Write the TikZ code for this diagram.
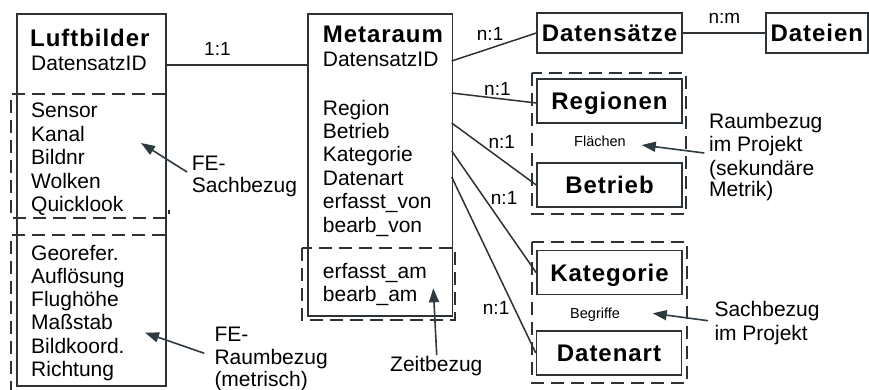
\documentclass[tikz,border=0pt]{standalone}
\usepackage{fontspec}
\setmainfont{Liberation Sans}
\newfontfamily\titlefont{Liberation Sans}[LetterSpace=4]
\usetikzlibrary{arrows.meta}
\definecolor{ln}{RGB}{45,50,54}
\definecolor{ar}{RGB}{45,58,64}
\newcommand\fr{\fontsize{21}{24}\selectfont}
\newcommand\fb{\titlefont\bfseries\fontsize{24}{27}\selectfont}
\newcommand\fs{\fontsize{19}{22}\selectfont}
\newcommand\ft{\fontsize{14.5}{16}\selectfont}
\begin{document}
\begin{tikzpicture}[x=1pt,y=-1pt,
 box/.style={draw=ln,line width=1.5pt,rectangle,inner sep=0pt},
 ent/.style={box,font=\fb,text height=17pt,text depth=0pt,minimum width=145pt,minimum height=44pt},
 grp/.style={draw=ln,line width=2.4pt,dash pattern=on 13pt off 7pt},
 rel/.style={draw=ln,line width=1.5pt},
 ptr/.style={draw=ar,line width=1.6pt,-{Triangle[length=14pt,width=10pt]}},
 txt/.style={inner sep=0pt,anchor=base west,font=\fr},
 ttl/.style={inner sep=0pt,anchor=base west,font=\fb},
 lbl/.style={inner sep=0pt,anchor=base west,font=\fs},
 sm/.style={inner sep=0pt,anchor=base west,font=\ft}]
\useasboundingbox (0,0) rectangle (869,389);

% dashed groupings
\draw[grp] (165,94) -- (11,94) -- (11,218) -- (169,218) -- (169,210);
\draw[grp] (165,235) -- (11,235) -- (11,392);
\draw[grp] (302,248) rectangle (455,320);
\draw[grp] (532,73) rectangle (686,214);
\draw[grp] (532,242) rectangle (687,383);

% Luftbilder
\node[box,anchor=north west,minimum width=149pt,minimum height=372pt] (luft) at (16,13) {};
\node[ttl] (lt) at (30,46) {Luftbilder};
\node[txt] (lid) at (31,70.7) {DatensatzID};
\foreach \t [count=\i] in {Sensor,Kanal,Bildnr,Wolken,Quicklook}
  \node[txt] (ls\i) at (31,{117.5+23.6*(\i-1)}) {\t};
\foreach \t [count=\i] in {Georefer.,Auflösung,Flughöhe,Maßstab,Bildkoord.,Richtung}
  \node[txt] (lr\i) at (31,{260+23.3*(\i-1)}) {\t};

% Metaraum
\node[box,anchor=north west,minimum width=144.4pt,minimum height=302pt] (meta) at (307.3,13) {};
\node[ttl] (mt) at (322.7,42) {Metaraum};
\node[txt] (mid) at (322.7,66.7) {DatensatzID};
\foreach \t [count=\i] in {Region,Betrieb,Kategorie,Datenart,erfasst\_von,bearb\_von}
  \node[txt] (ma\i) at (322.7,{115+23.4*(\i-1)}) {\t};
\node[txt] (mz1) at (322.7,278.3) {erfasst\_am};
\node[txt] (mz2) at (322.7,301.7) {bearb\_am};

% entities
\node[ent,minimum height=40pt] (ds) at (609.5,33) {Datensätze};
\node[ent,minimum width=102pt,minimum height=40pt] (df) at (816.8,33) {Dateien};
\node[ent] (reg) at (609.5,101) {Regionen};
\node[ent] (bet) at (609.5,185) {Betrieb};
\node[ent] (kat) at (609.5,272.7) {Kategorie};
\node[ent] (dat) at (609,353) {Datenart};
\node[sm] (fl) at (574,146.7) {Flächen};
\node[sm] (bg) at (570,318.3) {Begriffe};

% relation ends on box edges
\coordinate (y65) at (0,65);
\coordinate (m1) at (451.7,61);
\coordinate (m2) at (451.7,93);
\coordinate (m3) at (451.7,123);
\coordinate (m4) at (451.7,151);
\coordinate (m5) at (451.7,177);

\draw[rel] (luft.east |- y65) -- (meta.west |- y65);
\draw[rel] (m1) -- (ds.west);
\draw[rel] (ds.east) -- (df.west);
\draw[rel] (m2) -- ([yshift=-2pt]reg.west);
\draw[rel] (m3) -- (bet.west);
\draw[rel] (m4) -- (kat.west);
\draw[rel] (m5) -- (dat.west);

% cardinalities
\node[lbl] (c11) at (204,55) {1:1};
\node[lbl] (cnm) at (708.3,23.3) {n:m};
\node[lbl] (cn1) at (476.7,40.7) {n:1};
\node[lbl] (cn2) at (484,95) {n:1};
\node[lbl] (cn3) at (488.3,148.3) {n:1};
\node[lbl] (cn4) at (490.7,204) {n:1};
\node[lbl] (cn5) at (482.7,314) {n:1};

% annotations
\node[txt] (fs1) at (191.7,170) {FE-};
\node[txt] (fs2) at (191.7,192) {Sachbezug};
\node[txt] (fr1) at (214.3,341.7) {FE-};
\node[txt] (fr2) at (214.3,364) {Raumbezug};
\node[txt] (fr3) at (214.3,386) {(metrisch)};
\node[txt] (rb1) at (709,128.3) {Raumbezug};
\node[txt] (rb2) at (709,151.7) {im Projekt};
\node[txt] (rb3) at (709,175) {(sekundäre};
\node[txt] (rb4) at (709,196.7) {Metrik)};
\node[txt] (sb1) at (714.3,316.7) {Sachbezug};
\node[txt] (sb2) at (714.3,340.7) {im Projekt};
\node[txt] (zb) at (390,371.7) {Zeitbezug};

\coordinate (aFS) at (187,172);   \coordinate (tFS) at (141,143);
\coordinate (aFR) at (204.3,353.3); \coordinate (tFR) at (145,332.7);
\coordinate (aZ) at (436.7,355);  \coordinate (tZ) at (433.3,288.3);
\coordinate (aRB) at (704.3,153); \coordinate (tRB) at (641.7,145);
\coordinate (aSB) at (708,320.7); \coordinate (tSB) at (652.7,313.3);
\draw[ptr] (aFS) -- (tFS);
\draw[ptr] (aFR) -- (tFR);
\draw[ptr] (aZ) -- (tZ);
\draw[ptr] (aRB) -- (tRB);
\draw[ptr] (aSB) -- (tSB);
\end{tikzpicture}
\end{document}
